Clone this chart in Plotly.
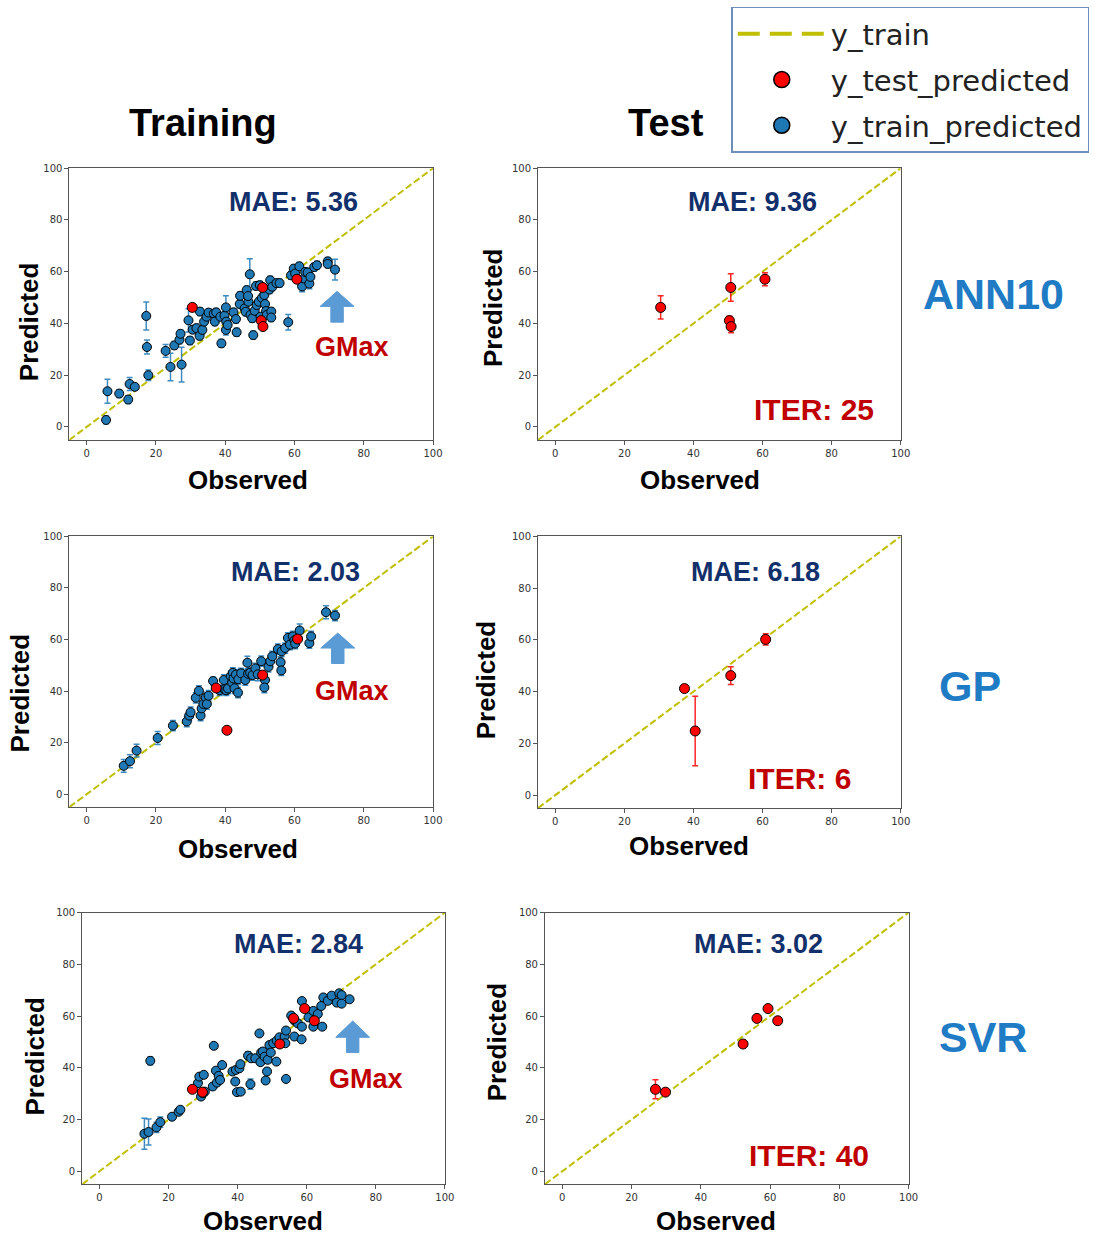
import plotly.graph_objects as go

W, H = 1095, 1236

# ---------------- data ----------------
ann_train_obs = [5.6, 6.0, 9.4, 12.0, 12.4, 13.9, 17.2, 17.4, 17.8, 22.8,
                 24.2, 25.3, 26.8, 27.1, 27.4, 29.4, 29.8, 30.6, 31.7, 32.6,
                 32.7, 33.4, 33.9, 34.6, 35.2, 36.7, 37.0, 37.4, 38.6, 38.9,
                 39.8, 40.2, 40.3, 40.2, 40.7, 42.4, 43.1, 43.3, 44.2, 44.3,
                 45.6, 45.9, 46.2, 46.7, 46.6, 47.1, 47.3, 47.8, 48.1, 48.5,
                 48.9, 49.1, 49.7, 50.0, 50.2, 50.6, 51.3, 51.5, 51.8, 52.0,
                 52.8, 53.0, 53.3, 53.3, 53.6, 54.8, 55.7, 58.2, 59.0, 59.8,
                 60.2, 61.4, 62.2, 62.7, 63.1, 63.8, 64.3, 64.6, 65.7, 66.5,
                 69.6, 69.6, 71.7]
ann_train_pred = [2.7, 13.8, 12.9, 10.6, 16.6, 15.5, 42.9, 30.9, 20.0, 29.4,
                  23.2, 31.5, 33.7, 36.0, 24.1, 41.2, 33.4, 37.6, 38.2, 35.2,
                  44.6, 37.5, 40.7, 42.6, 44.2, 43.8, 40.7, 44.3, 42.6, 32.3,
                  43.0, 46.2, 40.7, 37.5, 39.4, 44.3, 41.7, 36.6, 47.5, 50.7,
                  45.8, 44.5, 52.9, 48.4, 50.6, 59.0, 43.3, 42.0, 35.5, 44.9,
                  54.5, 47.1, 48.4, 54.8, 42.6, 49.9, 51.0, 47.5, 44.8, 43.3,
                  53.1, 56.7, 44.6, 42.3, 54.2, 55.6, 55.6, 40.5, 58.6, 61.2,
                  59.3, 62.1, 54.3, 57.4, 59.9, 59.7, 55.4, 58.0, 61.8, 62.5,
                  64.0, 63.0, 60.8]
ann_train_err = [1.5, 4.6, 1.5, 1.5, 2.5, 1.0, 5.4, 2.7, 2.0, 2.5,
                 5.3, 1.5, 1.5, 1.5, 6.7, 4.5, 1.5, 1.5, 1.5, 1.5,
                 1.5, 1.5, 1.5, 1.5, 1.5, 1.5, 1.5, 1.5, 1.5, 1.5,
                 1.5, 4.5, 1.5, 2.0, 1.5, 1.5, 1.5, 1.5, 1.5, 1.5,
                 1.5, 1.5, 1.5, 1.5, 1.5, 6.0, 1.5, 1.5, 1.5, 1.5,
                 1.5, 1.5, 1.5, 1.5, 1.5, 1.5, 1.5, 1.5, 1.5, 1.5,
                 1.5, 1.5, 1.5, 1.5, 1.5, 1.5, 1.5, 3.0, 1.5, 1.5,
                 1.5, 1.5, 2.0, 1.5, 1.5, 1.5, 2.0, 1.5, 1.5, 1.5,
                 1.5, 1.5, 4.0]
ann_test_obs = [30.5, 50.8, 50.4, 50.9, 60.7]
ann_test_pred = [46.2, 53.9, 41.1, 38.8, 57.1]
ann_test_err = [4.5, 5.3, 1.7, 2.4, 2.5]

gp_train_obs = [10.7, 12.5, 14.4, 20.5, 24.9, 28.9, 29.6, 30.0, 31.5, 32.4,
                32.9, 33.2, 33.7, 34.4, 34.7, 35.2, 36.5, 38.4, 39.6, 39.8,
                40.3, 40.8, 41.6, 42.0, 42.2, 42.4, 42.7, 43.1, 43.7, 43.8,
                44.6, 45.8, 46.4, 46.6, 47.2, 47.9, 48.7, 49.4, 50.4, 51.5,
                51.3, 52.5, 53.0, 53.6, 55.2, 56.0, 56.2, 56.3, 57.3, 58.1,
                58.7, 59.5, 60.0, 60.2, 61.5, 64.3, 64.8, 69.1, 71.7]
gp_train_pred = [11.0, 12.8, 16.9, 21.8, 26.6, 28.2, 30.5, 31.8, 37.4, 40.1,
                 30.5, 33.3, 35.0, 37.5, 35.0, 38.2, 43.9, 40.3, 44.3, 40.7,
                 40.3, 41.0, 45.8, 43.3, 47.1, 44.9, 41.1, 46.4, 39.4, 44.6,
                 46.9, 44.3, 51.0, 46.7, 47.1, 46.2, 48.8, 46.5, 51.6, 44.3,
                 41.4, 49.4, 51.6, 53.5, 56.3, 51.2, 48.0, 55.4, 56.7, 60.6,
                 58.0, 61.2, 59.7, 58.4, 63.5, 58.6, 61.2, 70.6, 69.3]
gp_train_err = [2.5, 2.5, 2.5, 2.5, 2.0, 2.0, 2.0, 2.0, 2.0, 2.0,
                2.0, 2.0, 2.0, 2.0, 2.0, 2.0, 1.5, 2.0, 2.0, 2.0,
                2.0, 2.0, 2.0, 2.0, 2.0, 2.0, 2.0, 2.0, 2.0, 2.0,
                2.0, 2.0, 2.5, 2.0, 2.0, 2.0, 2.0, 2.5, 2.0, 2.0,
                2.0, 2.0, 2.0, 2.0, 2.0, 2.0, 2.0, 2.0, 2.0, 2.0,
                2.0, 2.0, 2.0, 2.0, 2.5, 2.0, 2.0, 2.5, 2.0]
gp_test_obs = [37.4, 40.5, 50.8, 60.9]
gp_test_pred = [41.2, 24.8, 46.2, 60.2]
gp_test_err = [0.5, 13.4, 3.4, 2.2]

svr_train_obs = [13.0, 14.2, 14.7, 16.5, 17.6, 21.0, 22.9, 23.4, 28.5, 28.9,
                 29.4, 30.0, 30.2, 30.5, 32.8, 33.1, 33.7, 34.0, 34.5, 34.9,
                 35.5, 38.5, 39.3, 39.5, 39.8, 40.5, 40.8, 40.9, 43.0, 43.7,
                 43.9, 45.1, 46.3, 46.6, 46.8, 47.3, 47.8, 48.1, 48.5, 48.7,
                 49.2, 49.6, 50.3, 51.2, 51.3, 52.1, 53.6, 53.8, 54.0, 54.0,
                 55.5, 56.4, 56.5, 57.4, 58.5, 58.6, 58.6, 60.5, 61.9, 61.9,
                 63.2, 64.2, 64.5, 64.8, 66.1, 67.2, 68.7, 69.4, 70.1, 70.1,
                 72.4]
svr_train_pred = [14.5, 15.2, 42.7, 17.0, 19.0, 21.1, 23.0, 23.8, 34.1, 36.6,
                  28.9, 30.2, 37.3, 30.8, 32.8, 48.5, 38.9, 34.3, 36.9, 35.3,
                  41.1, 38.6, 34.7, 39.2, 30.6, 39.8, 41.4, 30.8, 44.7, 33.7,
                  43.7, 43.7, 53.3, 42.2, 45.9, 46.3, 44.3, 35.1, 38.6, 43.1,
                  48.8, 45.9, 49.5, 42.4, 50.5, 51.8, 52.1, 49.5, 54.4, 35.7,
                  60.2, 52.1, 58.2, 57.2, 51.0, 55.9, 65.8, 59.5, 62.0, 55.9,
                  60.8, 63.9, 55.9, 67.2, 65.9, 67.9, 65.2, 68.8, 68.1, 64.8,
                  66.5]
svr_train_err = [6.0, 5.0, 1.5, 2.0, 2.0, 0.8, 0.8, 0.8, 1.0, 1.0,
                 1.0, 1.0, 1.0, 1.0, 1.0, 0.8, 1.0, 1.0, 1.0, 1.0,
                 1.0, 1.0, 1.0, 1.0, 1.0, 1.0, 1.0, 1.0, 1.5, 2.0,
                 1.0, 1.0, 1.0, 1.0, 1.0, 1.0, 1.0, 1.0, 1.0, 1.0,
                 1.0, 1.0, 1.0, 1.0, 1.0, 1.0, 1.0, 1.0, 1.0, 1.0,
                 1.0, 1.0, 1.0, 1.0, 1.0, 1.0, 1.0, 1.0, 1.0, 1.0,
                 1.0, 1.0, 1.0, 1.0, 1.0, 1.0, 1.0, 1.0, 1.0, 1.0,
                 1.0]
svr_test_obs = [26.9, 29.8, 52.2, 56.2, 59.4, 62.2]
svr_test_pred = [31.7, 30.6, 49.2, 59.1, 62.9, 58.2]
svr_test_err = [3.7, 0.8, 0.8, 0.8, 0.8, 0.8]

models = ["ANN10", "GP", "SVR"]
mae_train = ["5.36", "2.03", "2.84"]
mae_test = ["9.36", "6.18", "3.02"]
iterations = ["25", "6", "40"]
diag = [-5, 100]
tick_values = [0, 20, 40, 60, 80, 100]

train_sets = [(ann_train_obs, ann_train_pred, ann_train_err),
              (gp_train_obs, gp_train_pred, gp_train_err),
              (svr_train_obs, svr_train_pred, svr_train_err)]
test_sets = [(ann_test_obs, ann_test_pred, ann_test_err),
             (gp_test_obs, gp_test_pred, gp_test_err),
             (svr_test_obs, svr_test_pred, svr_test_err)]

# ---------------- layout helpers ----------------
# pixel boxes (left, top, right, bottom) of each panel: rows ANN10, GP, SVR; cols train, test
boxes = [
    [(70, 163, 437, 436), (543, 163, 909, 436)],
    [(70, 533, 437, 805), (543, 533, 909, 806)],
    [(83, 911, 449, 1184), (550, 911, 917, 1184)],
]

BLUE = "#1f77b4"
DIAG_COLOR = "#bfbf00"
NAVY = "#12306b"
DARKRED = "#c00000"
MODEL_BLUE = "#1e7bc4"
ARROW_BLUE = "#5b9bd5"
TXT_FONT = "Liberation Sans"
BLUE_ERR = "rgba(31,119,180,0.85)"
RED_ERR = "rgba(255,0,0,0.85)"


def px(x):
    return x / W


def py(y):
    return 1 - y / H


fig = go.Figure()
layout_axes = {}
annotations = []
shapes = []

idx = 0
for r in range(3):
    for c in range(2):
        idx += 1
        xa = "x" if idx == 1 else f"x{idx}"
        ya = "y" if idx == 1 else f"y{idx}"
        L, T, R, B = boxes[r][c]
        axis_common = dict(range=[-5, 100], tickvals=tick_values, showgrid=False,
                           zeroline=False, showline=True, mirror=True,
                           linecolor="#555", linewidth=1, ticks="outside",
                           ticklen=4, tickcolor="#555",
                           tickfont=dict(size=10, color="#333", family="DejaVu Sans"))
        layout_axes["xaxis" if idx == 1 else f"xaxis{idx}"] = dict(
            domain=[px(L), px(R)], anchor=ya, **axis_common)
        layout_axes["yaxis" if idx == 1 else f"yaxis{idx}"] = dict(
            domain=[py(B), py(T)], anchor=xa, **axis_common)

        # identity line
        fig.add_trace(go.Scatter(
            x=diag, y=diag, mode="lines", xaxis=xa, yaxis=ya,
            line=dict(color=DIAG_COLOR, width=2, dash="7px,3px"),
            showlegend=False, hoverinfo="skip"))

        tobs, tpred, terr = test_sets[r]
        if c == 0:
            obs, pred, err = train_sets[r]
            fig.add_trace(go.Scatter(
                x=obs, y=pred, mode="markers", xaxis=xa, yaxis=ya,
                error_y=dict(type="data", array=err, color=BLUE_ERR,
                             thickness=1.5, width=3),
                marker=dict(color=BLUE, size=9, line=dict(color="black", width=1)),
                name="y_train_predicted", showlegend=False))
            fig.add_trace(go.Scatter(
                x=tobs, y=tpred, mode="markers", xaxis=xa, yaxis=ya,
                marker=dict(color="red", size=10, line=dict(color="black", width=1)),
                name="y_test_predicted", showlegend=False))
        else:
            fig.add_trace(go.Scatter(
                x=tobs, y=tpred, mode="markers", xaxis=xa, yaxis=ya,
                error_y=dict(type="data", array=terr, color=RED_ERR,
                             thickness=1.5, width=3),
                marker=dict(color="red", size=10, line=dict(color="black", width=1)),
                name="y_test_predicted", showlegend=False))

# legend entries (empty traces so the legend glyphs can be drawn larger)
fig.add_trace(go.Scatter(x=[None], y=[None], mode="lines", name="y_train",
                         line=dict(color=DIAG_COLOR, width=4, dash="22px,10px"),
                         legendgroup="a", legendrank=1))
fig.add_trace(go.Scatter(x=[None], y=[None], mode="markers", name="y_test_predicted",
                         marker=dict(color="red", size=16, line=dict(color="black", width=1.5)),
                         legendgroup="b", legendrank=2))
fig.add_trace(go.Scatter(x=[None], y=[None], mode="markers", name="y_train_predicted",
                         marker=dict(color=BLUE, size=16, line=dict(color="black", width=1.5)),
                         legendgroup="c", legendrank=3))

# ---------------- text ----------------
def txt(x, y, s, size, color, angle=0):
    annotations.append(dict(x=px(x), y=py(y), xref="paper", yref="paper",
                            text=f"<b>{s}</b>", showarrow=False, textangle=angle,
                            xanchor="center", yanchor="middle",
                            font=dict(size=size, color=color, family=TXT_FONT)))


txt(205, 118, "Training", 38, "black")
txt(672, 118, "Test", 38, "black")

model_pos = [(1003, 289), (979, 683), (992, 1036)]
pred_pos = [[(30, 317), (497, 303)], [(20, 690), (490, 677)], [(35, 1055), (502, 1041)]]
obs_pos = [[(250, 476), (706, 476)], [(240, 847), (695, 844)], [(265, 1221), (723, 1221)]]
mae_pos = [[(296, 197), (759, 197)], [(298, 569), (762, 569)], [(301, 943), (765, 943)]]
iter_pos = [(822, 405), (807, 776), (816, 1155)]
gmax_pos = [(355, 343), (355, 688), (369, 1078)]

for r in range(3):
    txt(*model_pos[r], models[r], 43, MODEL_BLUE)
    for c in range(2):
        txt(*pred_pos[r][c], "Predicted", 26, "black", angle=-90)
        txt(*obs_pos[r][c], "Observed", 26, "black")
    txt(*mae_pos[r][0], f"MAE: {mae_train[r]}", 27, NAVY)
    txt(*mae_pos[r][1], f"MAE: {mae_test[r]}", 27, NAVY)
    txt(*iter_pos[r], f"ITER: {iterations[r]}", 30, DARKRED)
    txt(*gmax_pos[r], "GMax", 27, DARKRED)

# block arrows pointing at the GMax region (data coords of training axes)
arrow_specs = [("x", "y", 72.3, 52.4, 46.6, 40.5),
               ("x3", "y3", 72.5, 62.5, 56.7, 50.7),
               ("x5", "y5", 73.3, 58.1, 51.8, 45.9)]
for xr, yr, cx, ytop, yneck, ybot in arrow_specs:
    hw, sw = 4.9, 1.8
    path = (f"M {cx - sw},{ybot} L {cx - sw},{yneck} L {cx - hw},{yneck} "
            f"L {cx},{ytop} L {cx + hw},{yneck} L {cx + sw},{yneck} "
            f"L {cx + sw},{ybot} Z")
    shapes.append(dict(type="path", path=path, xref=xr, yref=yr,
                       fillcolor=ARROW_BLUE, line=dict(color=ARROW_BLUE, width=1)))

fig.update_layout(
    width=W, height=H, margin=dict(l=0, r=0, t=0, b=0),
    paper_bgcolor="white", plot_bgcolor="white",
    annotations=annotations, shapes=shapes,
    legend=dict(x=px(738), y=py(1), xanchor="left", yanchor="top",
                bgcolor="white", bordercolor="#6f8fb8", borderwidth=1.5,
                font=dict(size=29, color="#222", family="DejaVu Sans"),
                itemwidth=88, tracegroupgap=5, traceorder="grouped"),
    **layout_axes,
)

fig.write_html("out.html")
